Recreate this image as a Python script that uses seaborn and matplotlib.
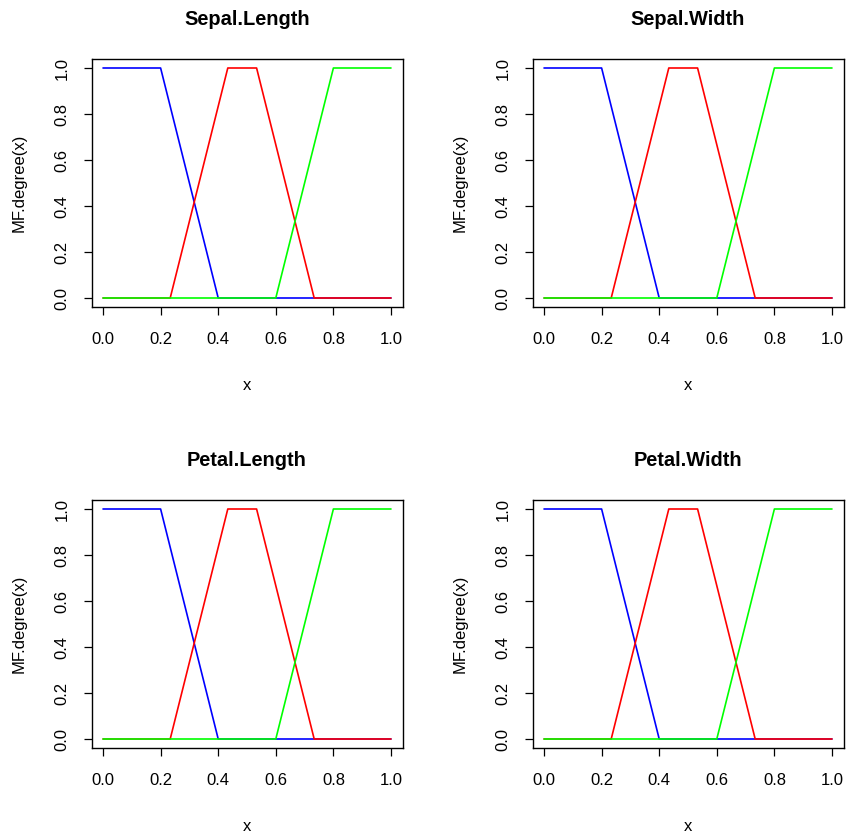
import matplotlib
matplotlib.use("Agg")
import matplotlib.pyplot as plt
import seaborn as sns
import pandas as pd

sns.set_theme(style="white")
plt.rcParams['font.family'] = ['Liberation Sans', 'DejaVu Sans']

titles = ["Sepal.Length", "Sepal.Width", "Petal.Length", "Petal.Width"]

low_x = [0.0, 0.2, 0.4, 1.0]
low_y = [1.0, 1.0, 0.0, 0.0]
mid_x = [0.0, 0.2333, 0.4333, 0.5333, 0.7333, 1.0]
mid_y = [0.0, 0.0, 1.0, 1.0, 0.0, 0.0]
high_x = [0.0, 0.6, 0.8, 1.0]
high_y = [0.0, 0.0, 1.0, 1.0]

series = [("low", low_x, low_y, "#0000FF"),
          ("mid", mid_x, mid_y, "#FF0000"),
          ("high", high_x, high_y, "#00FF00")]

ticks = [0.0, 0.2, 0.4, 0.6, 0.8, 1.0]
tick_labels = ["0.0", "0.2", "0.4", "0.6", "0.8", "1.0"]

W, H = 846, 834
fig = plt.figure(figsize=(W / 100, H / 100), dpi=100)

ax_left, ax_top, ax_w, ax_h = 91.5, 58.8, 311.0, 248.4
offset = 441

for i, title in enumerate(titles):
    r, c = divmod(i, 2)
    left = ax_left + c * offset
    top = ax_top + r * offset
    ax = fig.add_axes([left / W, 1 - (top + ax_h) / H, ax_w / W, ax_h / H])
    for name, xs, ys, col in series:
        df = pd.DataFrame({"x": xs, "y": ys})
        sns.lineplot(data=df, x="x", y="y", ax=ax, color=col, linewidth=1.2,
                     sort=False, estimator=None)
    ax.set_xlim(-0.04, 1.04)
    ax.set_ylim(-0.04, 1.04)
    ax.set_xticks(ticks)
    ax.set_xticklabels(tick_labels)
    ax.set_yticks(ticks)
    ax.set_yticklabels(tick_labels, rotation=90, va="center")
    ax.tick_params(direction="out", length=6, width=0.9, color="black",
                   labelsize=12, labelcolor="black", pad=10,
                   bottom=True, left=True)
    ax.tick_params(axis="x", pad=12)
    for sp in ax.spines.values():
        sp.set_visible(True)
        sp.set_color("black")
        sp.set_linewidth(1.0)
    ax.set_xlabel("x", fontsize=12, color="black", labelpad=22)
    ax.set_ylabel("MF.degree(x)", fontsize=12, color="black", labelpad=20)
    ax.set_title(title, fontsize=14.4, fontweight="bold", color="black", pad=24)
    ax.grid(False)

fig.savefig("out.png", dpi=100, facecolor="white")
